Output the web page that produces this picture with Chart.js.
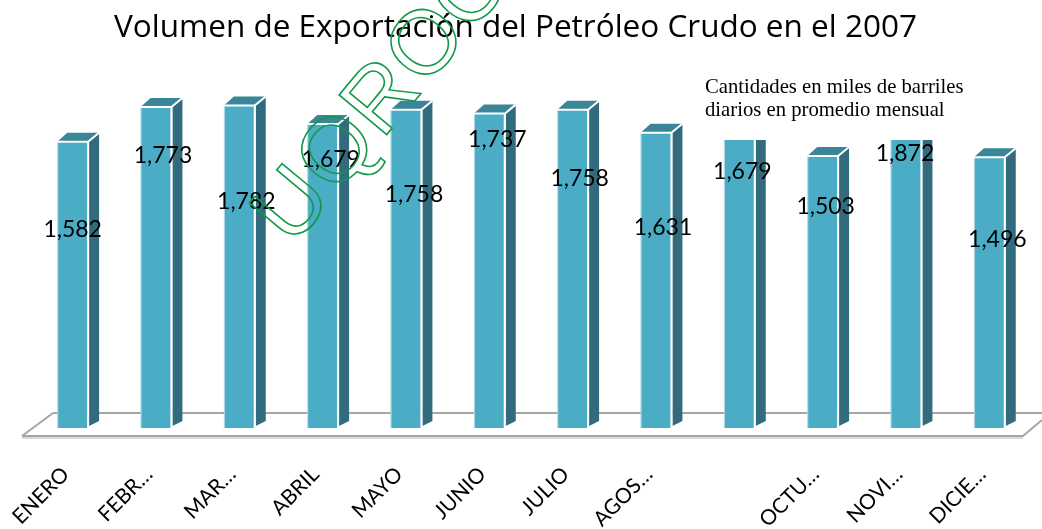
<!DOCTYPE html>
<html>
<head>
<meta charset="utf-8">
<script src="https://cdn.jsdelivr.net/npm/chart.js@4"></script>
<style>
  html, body { margin: 0; padding: 0; background: #fff; }
  #wrap { width: 1042px; height: 529px; }
</style>
</head>
<body>
<div id="wrap"><canvas id="c" width="1042" height="529"></canvas></div>
<script>
// ---- data ----
const categories = ['ENERO', 'FEBR…', 'MAR…', 'ABRIL', 'MAYO', 'JUNIO', 'JULIO', 'AGOS…', '', 'OCTU…', 'NOVI…', 'DICIE…'];
const exportVolume = [1582, 1773, 1782, 1679, 1758, 1737, 1758, 1631, 1679, 1503, 1872, 1496];
const titleText = 'Volumen de Exportación del Petróleo Crudo en el 2007';
const noteLines = ['Cantidades en miles de barriles', 'diarios en promedio mensual'];
const watermarkText = 'UQROO';

// ---- styles: value-label placement relative to each bar top (px) ----
const labelDrop = [88, 48, 96, 35, 85, 26, 69, 95, 47, 51, 64, 82];
const labelShiftX = [0, 7, 7, 8, 8, 8, 7, 7, 3, 3, -1, 8];

const FRONT = '#4BACC6', SIDE = '#316B7D', TOP = '#3B8599';

const floorPlugin = {
  id: 'floor',
  beforeDatasetsDraw(chart) {
    const { ctx, chartArea: a } = chart;
    const backY = a.bottom - 15, frontY = a.bottom + 8;
    ctx.save();
    ctx.lineWidth = 2;
    ctx.strokeStyle = '#DADADA';
    ctx.beginPath();
    ctx.moveTo(a.left - 9, frontY + 2); ctx.lineTo(a.right - 8, frontY + 2);
    ctx.stroke();
    ctx.strokeStyle = '#A6A6A6';
    ctx.beginPath();
    ctx.moveTo(a.left + 22, backY); ctx.lineTo(a.right + 11, backY);
    ctx.moveTo(a.left - 9, frontY); ctx.lineTo(a.left + 22, backY);
    ctx.moveTo(a.left - 9, frontY); ctx.lineTo(a.right - 8, frontY);
    ctx.lineTo(a.right + 11, frontY - 16);
    ctx.stroke();
    ctx.restore();
  }
};

const bars3dPlugin = {
  id: 'bars3d',
  afterDatasetsDraw(chart) {
    const { ctx } = chart;
    const meta = chart.getDatasetMeta(0);
    ctx.save();
    meta.data.forEach((el) => {
      const L = el.x - el.width / 2, R = el.x + el.width / 2, t = el.y, b = el.base;
      const dx = 10, dy = 9;
      ctx.fillStyle = SIDE;
      ctx.beginPath();
      ctx.moveTo(R + 1, t); ctx.lineTo(R + 1 + dx, t - dy);
      ctx.lineTo(R + 1 + dx, b - 7); ctx.lineTo(R + 1, b - 2);
      ctx.closePath(); ctx.fill();
      ctx.fillStyle = TOP;
      ctx.beginPath();
      ctx.moveTo(L, t); ctx.lineTo(L + dx, t - dy);
      ctx.lineTo(R + 1 + dx, t - dy); ctx.lineTo(R + 1, t);
      ctx.closePath(); ctx.fill();
      ctx.strokeStyle = '#FFFFFF';
      ctx.lineWidth = 2;
      ctx.beginPath();
      ctx.moveTo(R, b); ctx.lineTo(R, t);
      ctx.lineTo(R + 1 + dx, t - dy);
      ctx.moveTo(L, t); ctx.lineTo(R, t);
      ctx.stroke();
      ctx.strokeStyle = 'rgba(255,255,255,0.6)';
      ctx.lineWidth = 1;
      ctx.beginPath();
      ctx.moveTo(L + 0.5, t); ctx.lineTo(L + 0.5, b);
      ctx.stroke();
    });
    ctx.restore();
  }
};

const overlayPlugin = {
  id: 'overlay',
  afterDraw(chart) {
    const { ctx } = chart;
    const meta = chart.getDatasetMeta(0);
    ctx.save();
    ctx.fillStyle = '#FFFFFF';
    ctx.fillRect(699, 64, 268, 76);
    ctx.fillStyle = '#000';
    ctx.font = '20.7px "Liberation Serif", "Times New Roman", serif';
    ctx.textAlign = 'left';
    ctx.textBaseline = 'alphabetic';
    ctx.fillText(noteLines[0], 705, 93);
    ctx.fillText(noteLines[1], 705, 116);
    ctx.font = '23px Lato, "Open Sans", sans-serif';
    ctx.textAlign = 'center';
    ctx.textBaseline = 'middle';
    meta.data.forEach((el, i) => {
      ctx.fillText(exportVolume[i].toLocaleString('en-US'), el.x + labelShiftX[i], el.y + labelDrop[i]);
    });
    // watermark: outlined letters stepped along a diagonal
    const start = { x: 292, y: 205 }, step = { x: 44.7, y: -53.7 };
    const ang = Math.atan2(step.y, step.x);
    ctx.font = '90px "Liberation Sans", Arial, sans-serif';
    ctx.textAlign = 'center';
    ctx.textBaseline = 'middle';
    ctx.strokeStyle = '#109A48';
    ctx.lineWidth = 1.6;
    [...watermarkText].forEach((ch, i) => {
      ctx.save();
      ctx.translate(start.x + step.x * i, start.y + step.y * i);
      ctx.rotate(ang);
      ctx.strokeText(ch, 0, 3);
      ctx.restore();
    });
    ctx.restore();
  }
};

new Chart(document.getElementById('c'), {
  type: 'bar',
  data: {
    labels: categories,
    datasets: [{
      data: exportVolume,
      backgroundColor: FRONT,
      borderWidth: 0,
      barPercentage: 0.37,
      categoryPercentage: 1
    }]
  },
  options: {
    responsive: false,
    animation: false,
    layout: { padding: { left: 0, right: 11, top: 0, bottom: 0 } },
    plugins: {
      legend: { display: false },
      tooltip: { enabled: false },
      title: {
        display: true,
        text: titleText,
        color: '#000',
        font: { family: '"Open Sans", Lato, sans-serif', size: 31.5, weight: 'normal' },
        padding: { top: 9, bottom: 19.2 }
      }
    },
    scales: {
      x: {
        grid: { display: false, drawTicks: false },
        border: { display: false },
        ticks: {
          autoSkip: false,
          minRotation: 45,
          maxRotation: 45,
          padding: 34,
          labelOffset: -7,
          color: '#000',
          font: { family: 'Lato, "Open Sans", sans-serif', size: 21 }
        },
        afterFit(scale) { scale.height = 101; scale.paddingLeft = 0; scale.paddingRight = 0; }
      },
      y: {
        min: 0,
        max: 2000,
        grid: { display: false, drawTicks: false },
        border: { display: false },
        ticks: { display: false },
        afterFit(scale) { scale.width = 31; }
      }
    }
  },
  plugins: [floorPlugin, bars3dPlugin, overlayPlugin]
});
</script>
</body>
</html>
